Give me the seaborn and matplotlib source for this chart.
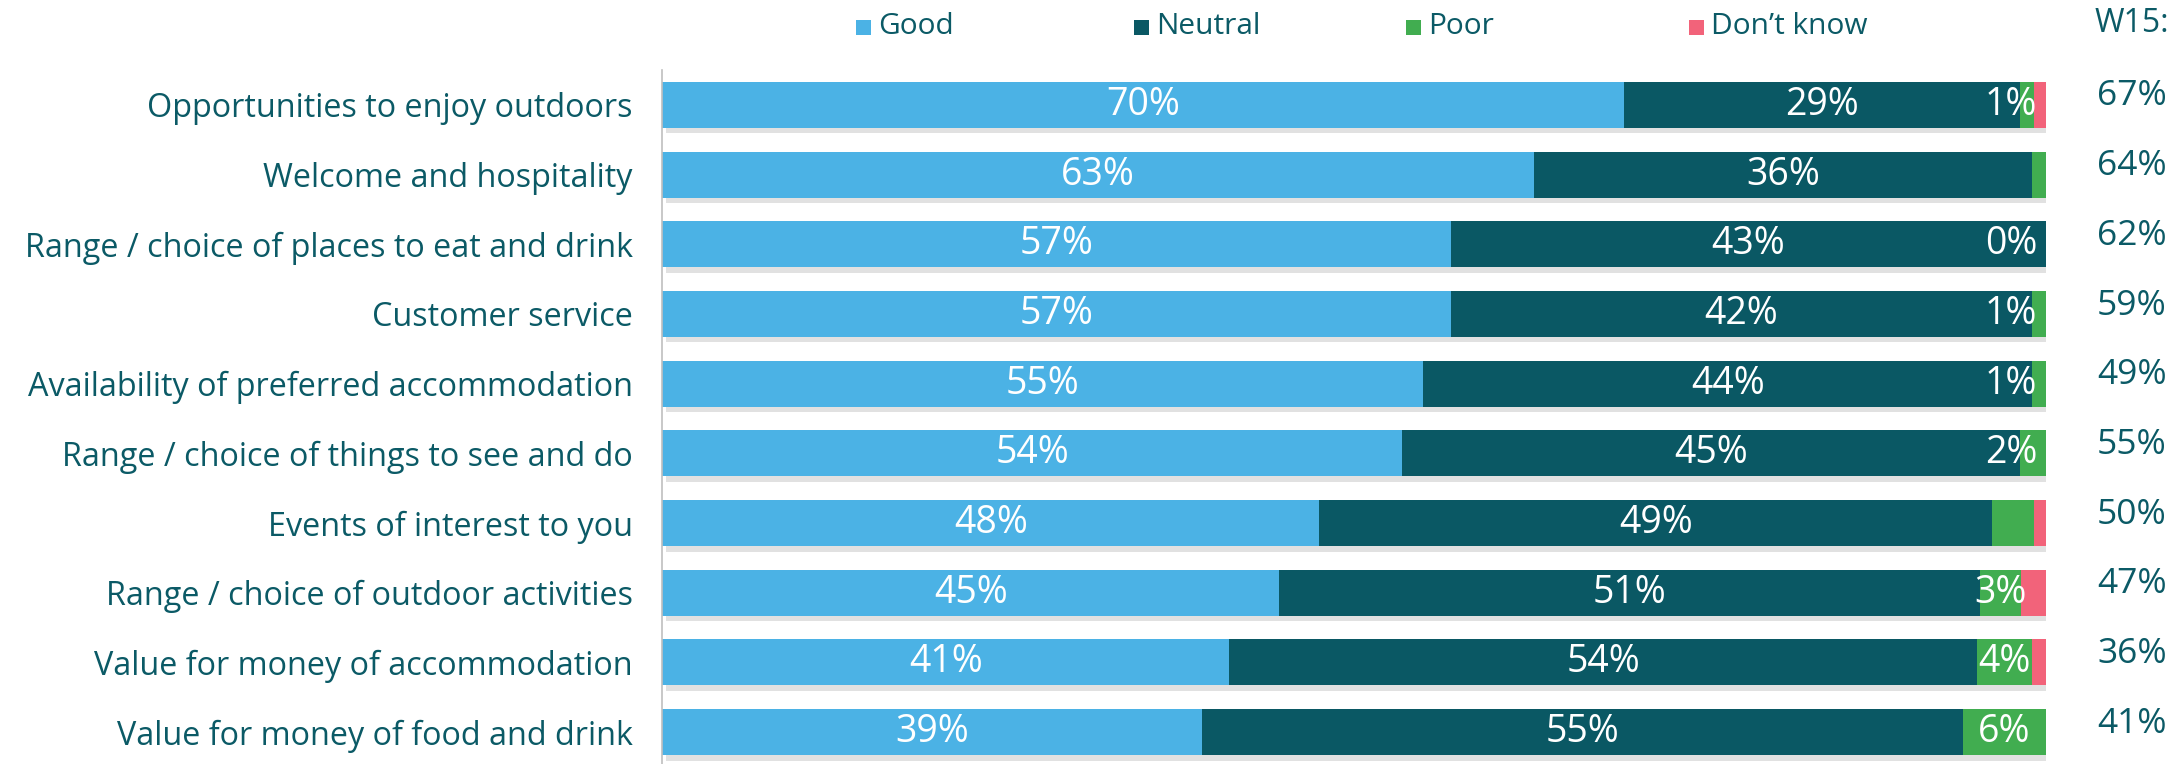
import numpy as np
import pandas as pd
import seaborn as sns
import matplotlib.pyplot as plt
import matplotlib.patheffects as pe
from matplotlib.patches import Rectangle

# Chart data (shares in %)
categories = [
    "Opportunities to enjoy outdoors",
    "Welcome and hospitality",
    "Range / choice of places to eat and drink",
    "Customer service",
    "Availability of preferred accommodation",
    "Range / choice of things to see and do",
    "Events of interest to you",
    "Range / choice of outdoor activities",
    "Value for money of accommodation",
    "Value for money of food and drink",
]
good = [69.5, 63, 57, 57, 55, 53.5, 47.5, 44.6, 41, 39]
neutral = [28.6, 36, 43, 42, 44, 44.6, 48.6, 50.6, 54, 55]
poor = [1.0, 1.0, 0.0, 1.0, 1.0, 1.9, 3.0, 3.0, 4.0, 6.0]
dont_know = [0.9, 0.0, 0.0, 0.0, 0.0, 0.0, 0.9, 1.8, 1.0, 0.0]
poor_shown = [True, False, True, True, True, True, False, True, True, True]
w15 = [67, 64, 62, 59, 49, 55, 50, 47, 36, 41]
series = ["Good", "Neutral", "Poor", "Don\u2019t know"]

colors = {"Good": "#4BB2E5", "Neutral": "#0A5864", "Poor": "#41AD50", "Don\u2019t know": "#F2637A"}
teal = "#0B5A66"

sns.set_style("white")
plt.rcParams["font.family"] = ["Open Sans", "DejaVu Sans"]

df = pd.DataFrame({"category": categories, "Good": good, "Neutral": neutral,
                   "Poor": poor, "Don\u2019t know": dont_know})
df["c_good"] = df["Good"]
df["c_neutral"] = df["c_good"] + df["Neutral"]
df["c_poor"] = df["c_neutral"] + df["Poor"]
df["c_dk"] = df["c_poor"] + df["Don\u2019t know"]

fig = plt.figure(figsize=(21.82, 7.64), dpi=100)
ax = fig.add_axes([0.3034, -0.0039, 0.6343, 0.9123])

# stacked bars: draw the longest cumulative first, then cover it
layers = [("c_dk", "Don\u2019t know"), ("c_poor", "Poor"), ("c_neutral", "Neutral"), ("c_good", "Good")]
for i, (col, name) in enumerate(layers):
    n_before = len(ax.patches)
    sns.barplot(data=df, x=col, y="category", orient="h", color=colors[name],
                saturation=1, width=0.66, linewidth=0, ax=ax)
    if i == 0:
        for p in ax.patches[n_before:]:
            p.set_path_effects([pe.SimplePatchShadow(offset=(3, -4), shadow_rgbFace="#8a8a8a", alpha=0.25),
                                pe.Normal()])

ax.set_xlim(0, 100)
ax.set_xticks([])
ax.set_xlabel("")
ax.set_ylabel("")
for s in ["top", "right", "bottom"]:
    ax.spines[s].set_visible(False)
ax.spines["left"].set_color("#BFBFBF")
ax.spines["left"].set_linewidth(1.2)
ax.set_yticks(np.arange(-0.5, len(categories), 1), minor=True)
ax.tick_params(axis="y", which="major", length=0, pad=21, labelsize=23.3, labelcolor=teal)
ax.tick_params(axis="y", which="minor", length=10, color="#BFBFBF", width=1.2)

# segment labels
for i in range(len(categories)):
    left = 0
    for name, show in [("Good", True), ("Neutral", True), ("Poor", poor_shown[i])]:
        v = df.loc[i, name]
        if show:
            c = left + v / 2
            if c > 97.5:
                ax.text(99.35, i, f"{v:.0f}%", ha="right", va="center", color="white", fontsize=27)
            else:
                ax.text(c, i, f"{v:.0f}%", ha="center", va="center", color="white", fontsize=27)
        left += v
    ax.text(106.2, i - 0.12, f"{w15[i]}%", ha="center", va="center", color=teal, fontsize=25.5, clip_on=False)

fig.text(2132 / 2182, 1 - 24 / 764, "W15:", ha="center", va="center", color=teal, fontsize=23)

# legend along the top
legend_x = [856, 1134, 1406, 1689]
for x, name in zip(legend_x, series):
    fig.add_artist(Rectangle((x / 2182, 1 - 35 / 764), 15 / 2182, 15 / 764,
                             transform=fig.transFigure, color=colors[name], lw=0))
    fig.text((x + 22) / 2182, 1 - 26 / 764, name, ha="left", va="center", color=teal, fontsize=21.5)

fig.savefig("out.png", dpi=100)
